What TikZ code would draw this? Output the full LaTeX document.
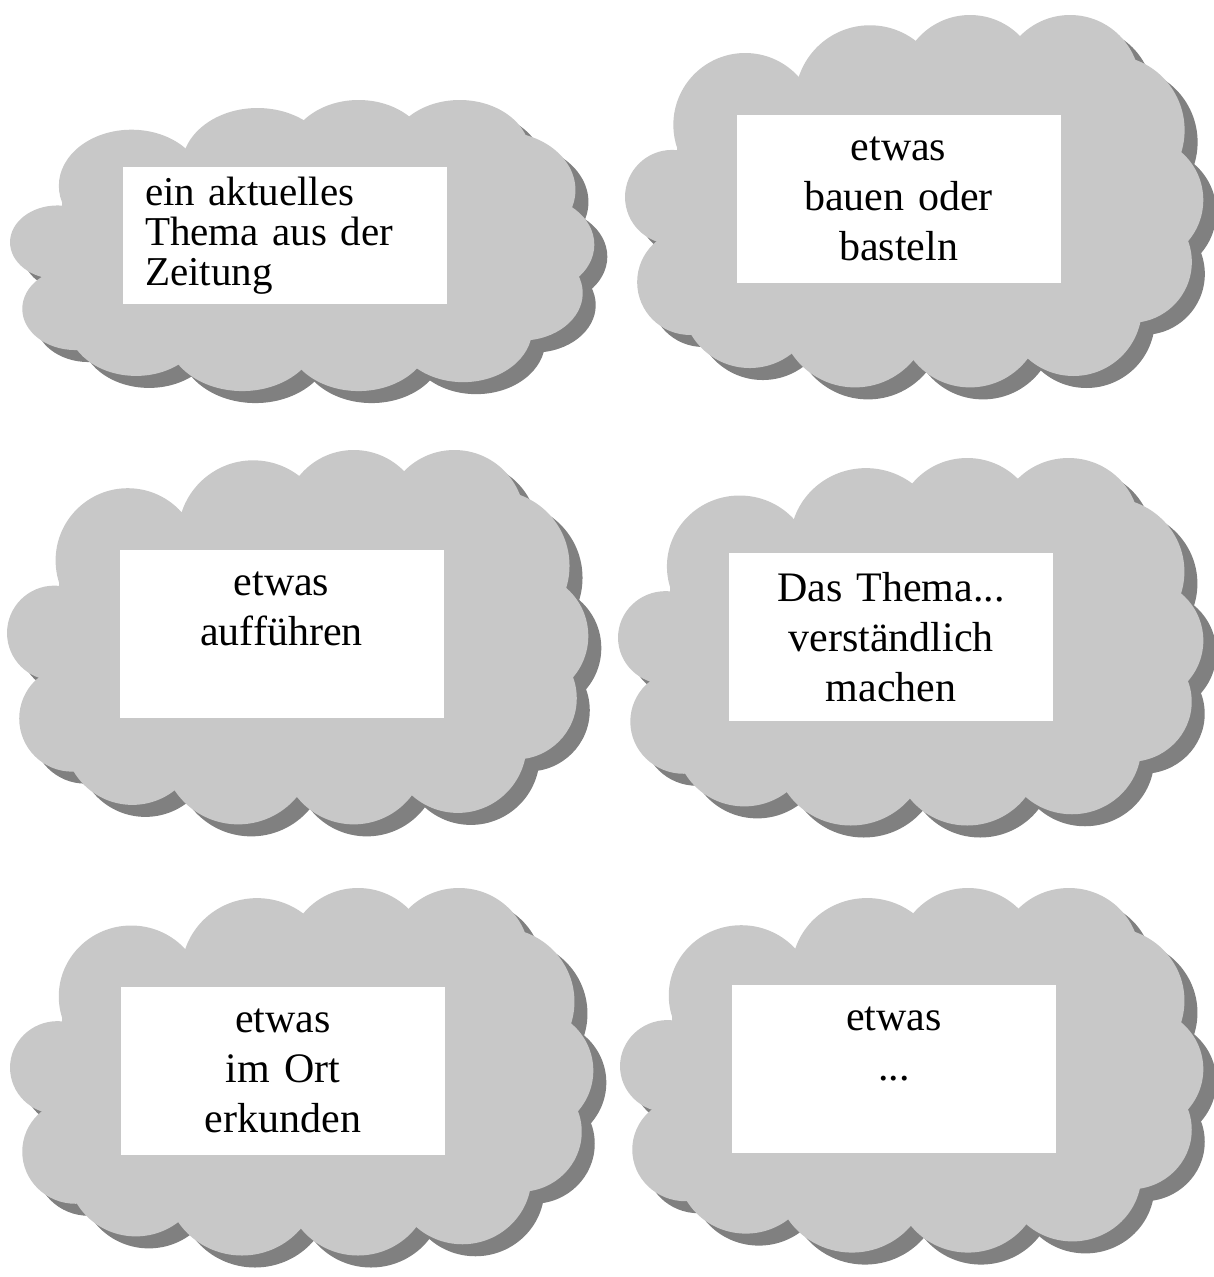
\documentclass[tikz,border=0pt]{standalone}
\usepackage{fontspec}
\setmainfont{Liberation Serif}

\definecolor{wolkengrau}{gray}{0.784}
\definecolor{schattengrau}{gray}{0.5}

\tikzset{
  kasten/.style={fill=white, minimum width=324pt, minimum height=168pt,
    text width=300pt, inner sep=0pt, align=center}
}

% cloud: left, top, width, height (puffs given relative to the box)
\newcommand\wolke[4]{%
  \foreach \farbe/\dx/\dy in {schattengrau/13/12, wolkengrau/0/0} {
    \begin{scope}[shift={(#1+\dx,#2+\dy)}, xscale=#3, yscale=#4]
      \fill[\farbe] (0.09,0.3) rectangle (0.89,0.8);
      \foreach \px/\py/\pr in {.082/.479/.124, .113/.703/.139, .217/.750/.179,
          .40/.78/.20, .60/.79/.19, .78/.77/.18, .88/.65/.16, .896/.487/.166,
          .843/.303/.197, .774/.184/.184, .600/.184/.184, .426/.224/.197, .209/.289/.189}
        \fill[\farbe] (\px,\py) circle[x radius=\pr*0.661, y radius=\pr];
    \end{scope}
  }
}

\begin{document}
\begin{tikzpicture}[x=1pt, y=-1pt, font=\fontsize{42}{50}\selectfont]
  \useasboundingbox (0,0) rectangle (1214,1277);

  % clouds with shadow
  \wolke{10}{100}{581}{297}
  \wolke{625}{15}{575}{380}
  \wolke{7}{450}{578}{382}
  \wolke{618}{458}{582}{375}
  \wolke{10}{888}{580}{375}
  \wolke{620}{888}{580}{372}

  % white boxes
  \node[kasten, minimum height=137pt, text width=280pt, align=left,
    font=\fontsize{41}{40}\selectfont] (b1) at (285,235.5) {ein aktuelles\\Thema aus der\\Zeitung};
  \foreach \n/\bx/\by/\txt in {2/898.5/198.5/{etwas\\bauen oder\\basteln},
      3/281.5/634/{etwas\\aufführen\\\mbox{}},
      4/891/637/{Das Thema...\\verständlich\\machen},
      5/283/1071/{etwas\\im Ort\\erkunden},
      6/894/1068.5/{etwas\\...\\\mbox{}}} {
    \node[kasten] (b\n) at (\bx,\by) {\txt};
  }
\end{tikzpicture}
\end{document}
